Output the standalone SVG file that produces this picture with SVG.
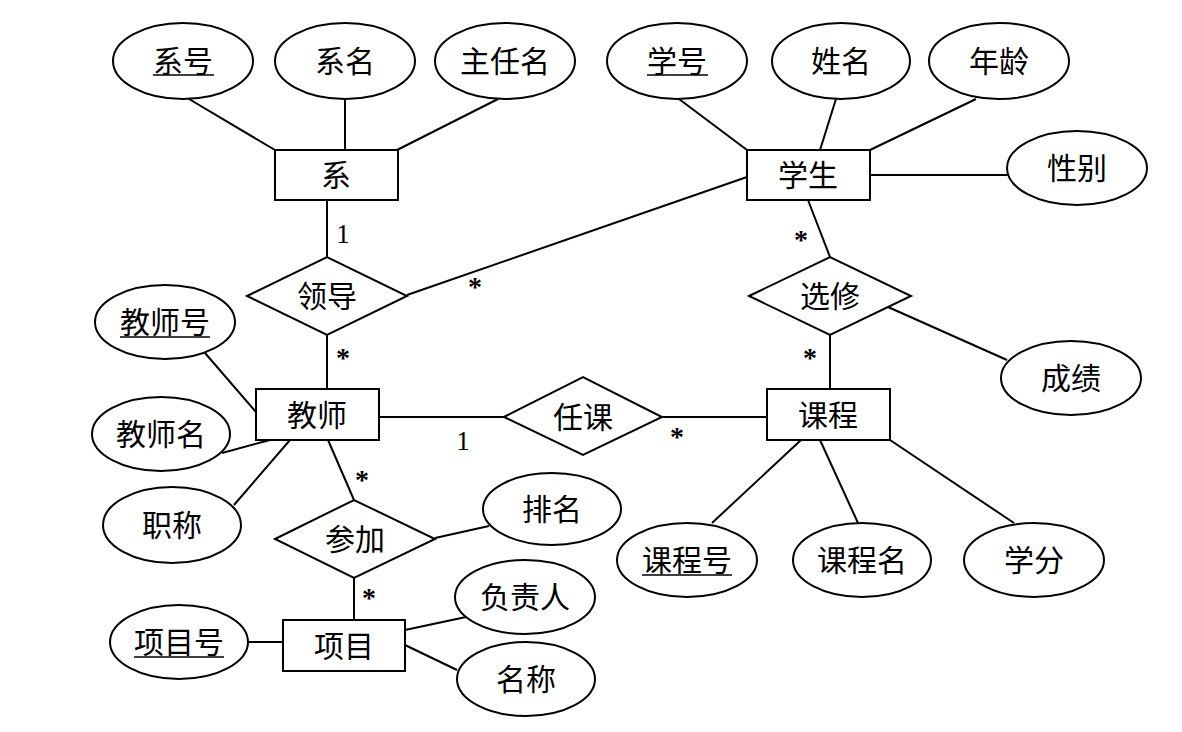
<svg xmlns="http://www.w3.org/2000/svg" width="1182" height="732" viewBox="0 0 1182 732">
<style>
.s{fill:#fff;stroke:#000;stroke-width:2}
.t{font-family:"Liberation Serif","Noto Sans CJK SC",serif;font-size:30px;fill:#000;text-anchor:middle}
.m{font-family:"Liberation Serif",serif;font-size:27px;fill:#000;text-anchor:middle}
.a{font-family:"Liberation Serif",serif;font-size:28px;font-weight:bold;fill:#000;text-anchor:middle}
.u{stroke:#000;stroke-width:1.6}
#edges line{stroke:#000;stroke-width:2}
</style>
<rect width="1182" height="732" fill="#fff"/>
<g id="edges">
<line x1="189" y1="99" x2="275" y2="150"/>
<line x1="345" y1="99" x2="345" y2="150"/>
<line x1="498" y1="99" x2="397" y2="150"/>
<line x1="327" y1="200" x2="327" y2="257"/>
<line x1="679" y1="99" x2="747" y2="150"/>
<line x1="836" y1="99" x2="820" y2="150"/>
<line x1="976" y1="99" x2="870" y2="150"/>
<line x1="870" y1="175" x2="1008" y2="175"/>
<line x1="747" y1="177" x2="407" y2="295"/>
<line x1="808" y1="200" x2="830" y2="257"/>
<line x1="327" y1="335" x2="327" y2="389"/>
<line x1="888" y1="307" x2="1007" y2="360"/>
<line x1="830" y1="335" x2="830" y2="389"/>
<line x1="205" y1="353" x2="256" y2="412"/>
<line x1="222" y1="453" x2="270" y2="440"/>
<line x1="234" y1="505" x2="290" y2="440"/>
<line x1="379" y1="417" x2="504" y2="417"/>
<line x1="662" y1="417" x2="767" y2="417"/>
<line x1="328" y1="440" x2="354" y2="500"/>
<line x1="435" y1="538" x2="489" y2="526"/>
<line x1="354" y1="578" x2="354" y2="620"/>
<line x1="248" y1="642" x2="283" y2="642"/>
<line x1="405" y1="630" x2="466" y2="617"/>
<line x1="405" y1="645" x2="457" y2="670"/>
<line x1="801" y1="440" x2="712" y2="523"/>
<line x1="820" y1="440" x2="858" y2="523"/>
<line x1="890" y1="440" x2="1014" y2="523"/>
</g>
<g id="labels">
<text class="m" x="343" y="243">1</text>
<text class="m" x="463" y="450">1</text>
<text class="a" x="475" y="296">*</text>
<text class="a" x="343" y="367">*</text>
<text class="a" x="801" y="249">*</text>
<text class="a" x="810" y="367">*</text>
<text class="a" x="677" y="446">*</text>
<text class="a" x="362" y="489">*</text>
<text class="a" x="369" y="607">*</text>
</g>
<g id="xihao"><ellipse class="s" cx="183" cy="61" rx="70" ry="38"/><text class="t" x="183" y="72">系号</text><line class="u" x1="153" y1="75" x2="214" y2="75"/></g>
<g id="ximing"><ellipse class="s" cx="345" cy="61" rx="70" ry="38"/><text class="t" x="345" y="72">系名</text></g>
<g id="zhurenming"><ellipse class="s" cx="505" cy="61" rx="70" ry="38"/><text class="t" x="505" y="72">主任名</text></g>
<g id="xi"><rect class="s" x="275" y="150" width="123" height="50"/><text class="t" x="336" y="186">系</text></g>
<g id="xuehao"><ellipse class="s" cx="677" cy="61" rx="70" ry="38"/><text class="t" x="677" y="72">学号</text><line class="u" x1="647" y1="75" x2="708" y2="75"/></g>
<g id="xingming"><ellipse class="s" cx="841" cy="61" rx="69" ry="38"/><text class="t" x="841" y="72">姓名</text></g>
<g id="nianling"><ellipse class="s" cx="999" cy="61" rx="70" ry="38"/><text class="t" x="999" y="72">年龄</text></g>
<g id="xuesheng"><rect class="s" x="747" y="150" width="123" height="50"/><text class="t" x="808" y="186">学生</text></g>
<g id="xingbie"><ellipse class="s" cx="1077" cy="168" rx="70" ry="37"/><text class="t" x="1077" y="179">性别</text></g>
<g id="lingdao"><polygon class="s" points="247,296 327,257 407,296 327,335"/><text class="t" x="327" y="307">领导</text></g>
<g id="xuanxiu"><polygon class="s" points="749,296 830,257 911,296 830,335"/><text class="t" x="830" y="307">选修</text></g>
<g id="chengji"><ellipse class="s" cx="1071" cy="378" rx="70" ry="37"/><text class="t" x="1071" y="389">成绩</text></g>
<g id="jiaoshihao"><ellipse class="s" cx="165" cy="322" rx="70" ry="37"/><text class="t" x="165" y="333">教师号</text><line class="u" x1="120" y1="337" x2="210" y2="337"/></g>
<g id="jiaoshiming"><ellipse class="s" cx="161" cy="434" rx="69" ry="37"/><text class="t" x="161" y="445">教师名</text></g>
<g id="jiaoshi"><rect class="s" x="256" y="389" width="123" height="51"/><text class="t" x="317" y="426">教师</text></g>
<g id="renke"><polygon class="s" points="504,417 583,377 662,417 583,455"/><text class="t" x="583" y="428">任课</text></g>
<g id="kecheng"><rect class="s" x="767" y="389" width="123" height="51"/><text class="t" x="828" y="426">课程</text></g>
<g id="zhicheng"><ellipse class="s" cx="172" cy="525" rx="69" ry="38"/><text class="t" x="172" y="536">职称</text></g>
<g id="canjia"><polygon class="s" points="275,539 354,500 435,539 354,578"/><text class="t" x="355" y="550">参加</text></g>
<g id="paiming"><ellipse class="s" cx="552" cy="509" rx="69" ry="36"/><text class="t" x="552" y="520">排名</text></g>
<g id="kechenghao"><ellipse class="s" cx="687" cy="560" rx="70" ry="37"/><text class="t" x="687" y="571">课程号</text><line class="u" x1="642" y1="575" x2="732" y2="575"/></g>
<g id="kechengming"><ellipse class="s" cx="862" cy="560" rx="69" ry="37"/><text class="t" x="862" y="571">课程名</text></g>
<g id="xuefen"><ellipse class="s" cx="1034" cy="560" rx="70" ry="37"/><text class="t" x="1034" y="571">学分</text></g>
<g id="xiangmuhao"><ellipse class="s" cx="179" cy="642" rx="69" ry="37"/><text class="t" x="179" y="653">项目号</text><line class="u" x1="134" y1="657" x2="224" y2="657"/></g>
<g id="xiangmu"><rect class="s" x="283" y="620" width="122" height="51"/><text class="t" x="344" y="657">项目</text></g>
<g id="fuzeren"><ellipse class="s" cx="525" cy="597" rx="70" ry="37"/><text class="t" x="525" y="608">负责人</text></g>
<g id="mingcheng"><ellipse class="s" cx="526" cy="679" rx="69" ry="37"/><text class="t" x="526" y="690">名称</text></g>
</svg>
